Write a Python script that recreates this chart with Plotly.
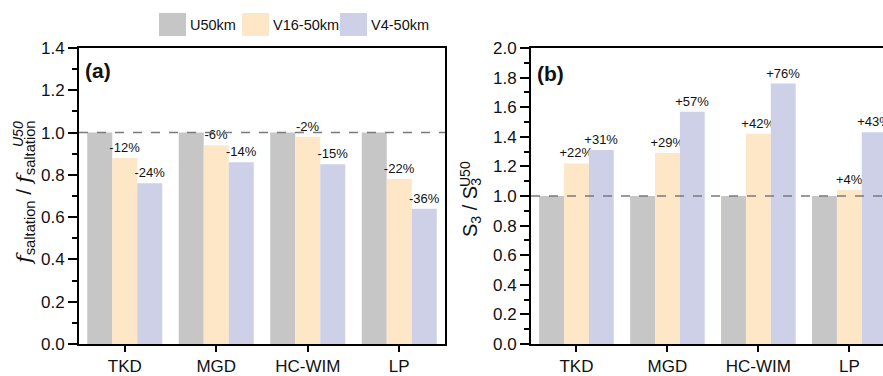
import plotly.graph_objects as go

sites = ["TKD", "MGD", "HC-WIM", "LP"]
series_names = ["U50km", "V16-50km", "V4-50km"]
colors = ["#c6c6c6", "#fde7c6", "#cdd0e6"]

# panel (a): f_saltation ratio
a_u50 = [1.0, 1.0, 1.0, 1.0]
a_v16 = [0.88, 0.94, 0.98, 0.78]
a_v4 = [0.76, 0.86, 0.85, 0.64]
a_v16_lbl = ["-12%", "-6%", "-2%", "-22%"]
a_v4_lbl = ["-24%", "-14%", "-15%", "-36%"]

# panel (b): S3 ratio
b_u50 = [1.0, 1.0, 1.0, 1.0]
b_v16 = [1.22, 1.29, 1.42, 1.04]
b_v4 = [1.31, 1.57, 1.76, 1.43]
b_v16_lbl = ["+22%", "+29%", "+42%", "+4%"]
b_v4_lbl = ["+31%", "+57%", "+76%", "+43%"]

FONT = "Liberation Sans, Arial, sans-serif"
W, H = 883, 376

def px(x):
    return x / W

def py(y):
    return 1 - y / H

fig = go.Figure()

def add_bars(vals, labels, idx, xa, ya):
    fig.add_trace(go.Bar(
        x=sites, y=vals, name=series_names[idx],
        marker=dict(color=colors[idx], line=dict(width=0)),
        text=labels, textposition="outside", constraintext="none",
        textfont=dict(size=13, color="#111", family=FONT),
        cliponaxis=False if labels else True,
        showlegend=False, xaxis=xa, yaxis=ya,
    ))

add_bars(a_u50, None, 0, "x", "y")
add_bars(a_v16, a_v16_lbl, 1, "x", "y")
add_bars(a_v4, a_v4_lbl, 2, "x", "y")
add_bars(b_u50, None, 0, "x2", "y2")
add_bars(b_v16, b_v16_lbl, 1, "x2", "y2")
add_bars(b_v4, b_v4_lbl, 2, "x2", "y2")

axis_common = dict(
    showline=True, linecolor="black", linewidth=1.8, mirror=True,
    ticks="outside", tickwidth=1.6, tickcolor="black",
    showgrid=False, zeroline=False, automargin=False,
)
xtick = dict(ticklen=6, tickfont=dict(size=17, color="#111", family=FONT))
ytick = dict(ticklen=9, tickfont=dict(size=17, color="#111", family=FONT),
             minor=dict(dtick=0.1, ticks="outside", ticklen=5, tickwidth=1.6, tickcolor="black"))

top_px, bot_px = 48, 344
ydom = [py(bot_px), py(top_px)]

fig.update_layout(
    width=W, height=H, autosize=False,
    margin=dict(l=0, r=0, t=0, b=0, pad=0),
    paper_bgcolor="white", plot_bgcolor="white",
    barmode="group", bargap=0.18, bargroupgap=0,
    font=dict(family=FONT, color="#111"),
    xaxis=dict(domain=[px(79), px(445)], range=[-0.5, 3.5], anchor="y", **axis_common, **xtick),
    yaxis=dict(domain=ydom, range=[0, 1.4], dtick=0.2, tickformat=".1f", anchor="x",
               **axis_common, **ytick),
    xaxis2=dict(domain=[px(531), 1.0], range=[-0.5, 3.37], anchor="y2", **axis_common, **xtick),
    yaxis2=dict(domain=ydom, range=[0, 2.0], dtick=0.2, tickformat=".1f", anchor="x2",
                **axis_common, **ytick),
)

# reference lines at ratio 1.0
for xr, yr in [("x domain", "y"), ("x2 domain", "y2")]:
    fig.add_shape(type="line", xref=xr, yref=yr, x0=0, x1=1, y0=1.0, y1=1.0,
                  line=dict(color="#7a7a7a", width=1.6, dash="dash"), layer="above")

# y-axis titles (superscript stacked over subscript, as in the original)
F = "<span style='font-family:DejaVu Serif'><i>f</i></span>"
title_font = dict(size=21, family=FONT, color="#111")
fig.add_annotation(text=F + "<sub>saltation</sub> / " + F + "<sub>saltation</sub>",
                   xref="paper", yref="paper", x=px(25), y=py(193), textangle=-90,
                   xanchor="center", yanchor="middle", showarrow=False, font=title_font)
fig.add_annotation(text="<i>U50</i>", xref="paper", yref="paper", x=px(18), y=py(134),
                   textangle=-90, xanchor="center", yanchor="middle", showarrow=False,
                   font=dict(size=14, family=FONT, color="#111"))
fig.add_annotation(text="S<sub>3</sub> / S<sub>3</sub>",
                   xref="paper", yref="paper", x=px(471), y=py(208), textangle=-90,
                   xanchor="center", yanchor="middle", showarrow=False,
                   font=dict(size=20, family=FONT, color="#111"))
fig.add_annotation(text="U50", xref="paper", yref="paper", x=px(465), y=py(174),
                   textangle=-90, xanchor="center", yanchor="middle", showarrow=False,
                   font=dict(size=14, family=FONT, color="#111"))

# panel letters
fig.add_annotation(text="<b>(a)</b>", xref="x domain", yref="y domain", x=0.012, y=0.97,
                   xanchor="left", yanchor="top", showarrow=False, font=dict(size=21, family=FONT))
fig.add_annotation(text="<b>(b)</b>", xref="x2 domain", yref="y2 domain", x=0.012, y=0.96,
                   xanchor="left", yanchor="top", showarrow=False, font=dict(size=21, family=FONT))

# legend (drawn as swatches + labels at top)
leg_x = [159, 242, 340]
for i, name in enumerate(series_names):
    x0 = leg_x[i]
    fig.add_shape(type="rect", xref="paper", yref="paper",
                  x0=px(x0), x1=px(x0 + 27), y0=py(36), y1=py(13),
                  fillcolor=colors[i], line=dict(width=0))
    fig.add_annotation(text=name, xref="paper", yref="paper", x=px(x0 + 29), y=py(25),
                       xanchor="left", yanchor="middle", showarrow=False,
                       font=dict(size=14.5, family=FONT, color="#111"))

fig.write_html("out.html", config={"displayModeBar": False},
               post_script="document.body.style.margin='0';document.body.style.overflow='hidden';")
